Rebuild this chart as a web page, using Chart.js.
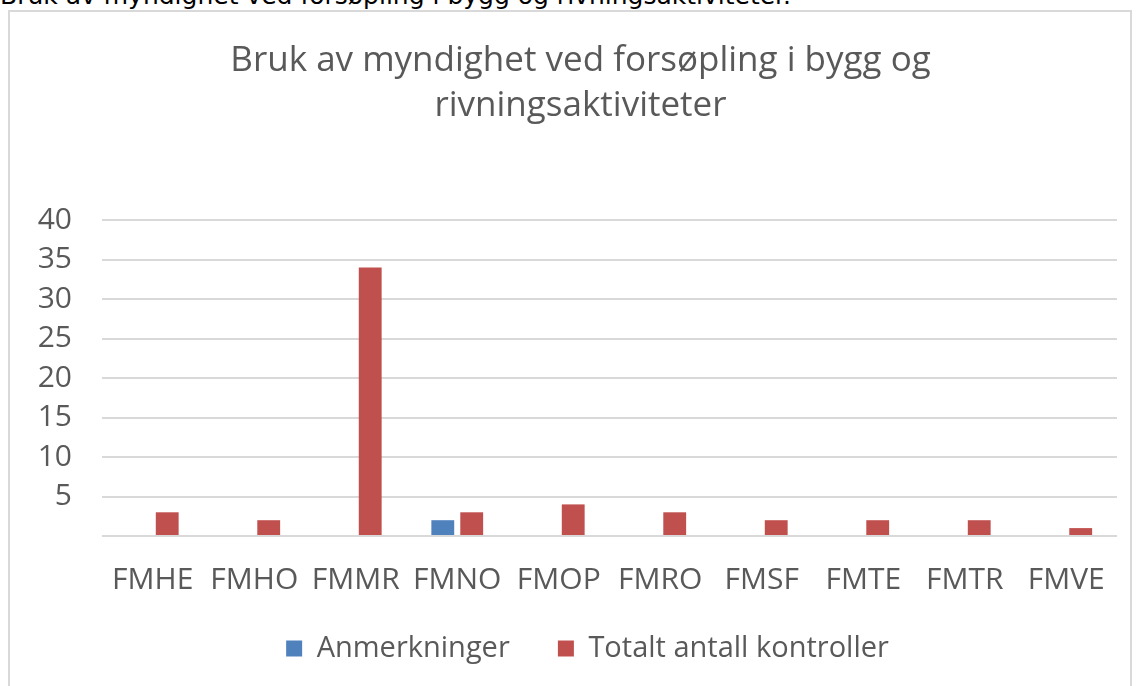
<!DOCTYPE html>
<html>
<head>
<meta charset="utf-8">
<script src="https://cdn.jsdelivr.net/npm/chart.js@4/dist/chart.umd.min.js"></script>
<style>
  body { margin: 0; background: #fff; width: 1139px; height: 686px; overflow: hidden; position: relative; }
  #caption { position: absolute; left: 0; top: -19px; font-family: "DejaVu Sans", Verdana, sans-serif; font-size: 25px; color: #000; white-space: nowrap; }
  #frame { position: absolute; left: 8px; top: 10px; width: 1124px; height: 690px; border: 2px solid #d9d9d9; box-sizing: border-box; }
  #wrap { position: absolute; left: 10px; top: 12px; width: 1120px; height: 674px; }
</style>
</head>
<body>
<div id="caption">Bruk av myndighet ved forsøpling i bygg og rivningsaktiviteter.</div>
<div id="frame"></div>
<div id="wrap"><canvas id="chart"></canvas></div>
<script>
// --- Data ---
const categories = ['FMHE', 'FMHO', 'FMMR', 'FMNO', 'FMOP', 'FMRO', 'FMSF', 'FMTE', 'FMTR', 'FMVE'];
const anmerkninger = [null, null, null, 2, null, null, null, null, null, null];
const totaltKontroller = [3, 2, 34, 3, 4, 3, 2, 2, 2, 1];
const seriesNames = ['Anmerkninger', 'Totalt antall kontroller'];
const titleLines = ['Bruk av myndighet ved forsøpling i bygg og', 'rivningsaktiviteter'];

const font = '"Open Sans", Calibri, sans-serif';
const grey = '#595959';

// Excel centres title and legend on the plot area, not the whole canvas
const shiftBoxes = {
    id: 'shiftBoxes',
    afterLayout(chart) {
        chart.titleBlock.left += 17;
        chart.titleBlock.right += 17;
        chart.legend.left += 24;
        chart.legend.right += 24;
    }
};

new Chart(document.getElementById('chart'), {
    type: 'bar',
    data: {
        labels: categories,
        datasets: [
            // trailing spaces widen the gap between the two legend entries
            { label: seriesNames[0] + '    ', data: anmerkninger, backgroundColor: '#4f81bd', borderWidth: 0 },
            { label: seriesNames[1], data: totaltKontroller, backgroundColor: '#c0504d', borderWidth: 0 }
        ]
    },
    options: {
        responsive: true,
        maintainAspectRatio: false,
        animation: false,
        datasets: { bar: { categoryPercentage: 0.57, barPercentage: 0.79 } },
        layout: { padding: { left: 0, right: 13, top: 10, bottom: 13 } },
        plugins: {
            title: {
                display: true,
                text: titleLines,
                color: grey,
                font: { family: font, size: 35, weight: 'normal', lineHeight: 1.286 },
                padding: { top: 17, bottom: 91 }
            },
            legend: {
                position: 'bottom',
                labels: {
                    color: grey,
                    font: { family: font, size: 29 },
                    boxWidth: 16,
                    boxHeight: 16,
                    padding: 18
                }
            },
            tooltip: { enabled: false }
        },
        scales: {
            x: {
                grid: { display: false },
                border: { display: false },
                ticks: { color: grey, font: { family: font, size: 30 }, padding: 18, maxRotation: 0 }
            },
            y: {
                min: 0,
                max: 40,
                ticks: {
                    stepSize: 5,
                    color: grey,
                    font: { family: font, size: 30 },
                    padding: 30,
                    callback: v => v === 0 ? '' : v
                },
                grid: { color: '#d9d9d9', lineWidth: 2, drawTicks: false },
                border: { display: false },
                afterFit: s => { s.width = 92; }
            }
        }
    },
    plugins: [shiftBoxes]
});
</script>
</body>
</html>
